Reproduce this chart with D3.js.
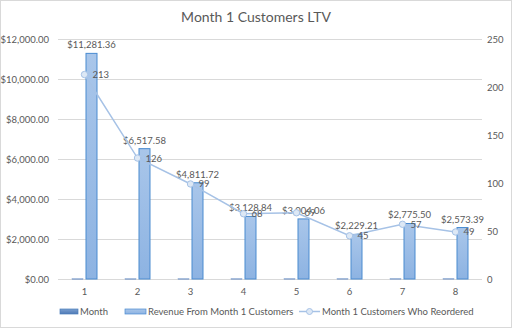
<!DOCTYPE html>
<html>
<head>
<meta charset="utf-8">
<script src="https://cdn.jsdelivr.net/npm/d3@7"></script>
<style>
  body { margin: 0; background: #fff; }
  text { font-family: Lato, "Liberation Sans", sans-serif; fill: #595959; }
</style>
</head>
<body>
<script>
const months = [1, 2, 3, 4, 5, 6, 7, 8];
const revenue = [11281.36, 6517.58, 4811.72, 3128.84, 3004.06, 2229.21, 2775.50, 2573.39];
const reorders = [213, 126, 99, 68, 69, 45, 57, 49];
const leftTicks = [0, 2000, 4000, 6000, 8000, 10000, 12000];
const rightTicks = [0, 50, 100, 150, 200, 250];

const width = 512, height = 328;
const margin = { top: 39, right: 30, bottom: 49, left: 58 };

const svg = d3.select("body").append("svg")
  .attr("width", width)
  .attr("height", height);

const defs = svg.append("defs");
const grad = defs.append("linearGradient").attr("id", "barGrad")
  .attr("x1", 0).attr("x2", 0).attr("y1", 0).attr("y2", 1);
grad.append("stop").attr("offset", "0%").attr("stop-color", "#a9c6ea");
grad.append("stop").attr("offset", "100%").attr("stop-color", "#8db3e2");
const grad2 = defs.append("linearGradient").attr("id", "monthGrad")
  .attr("x1", 0).attr("x2", 0).attr("y1", 0).attr("y2", 1);
grad2.append("stop").attr("offset", "0%").attr("stop-color", "#7a9fd0");
grad2.append("stop").attr("offset", "100%").attr("stop-color", "#4f79b5");

// chart border
svg.append("rect")
  .attr("x", 0.5).attr("y", 0.5)
  .attr("width", width - 1).attr("height", height - 1)
  .attr("fill", "#fff").attr("stroke", "#d9d9d9");

const x = d3.scaleBand()
  .domain(months)
  .range([margin.left, width - margin.right]);

const yL = d3.scaleLinear().domain([0, 12000]).range([height - margin.bottom, margin.top]);
const yR = d3.scaleLinear().domain([0, 250]).range([height - margin.bottom, margin.top]);

// gridlines
svg.append("g").selectAll("line")
  .data(leftTicks)
  .join("line")
  .attr("x1", margin.left).attr("x2", width - margin.right)
  .attr("y1", d => Math.round(yL(d)) + 0.5).attr("y2", d => Math.round(yL(d)) + 0.5)
  .attr("stroke", "#d9d9d9");

const money = d3.format("$,.2f");

// left axis
svg.append("g").selectAll("text")
  .data(leftTicks)
  .join("text")
  .attr("x", margin.left - 9)
  .attr("y", d => yL(d) + 3.5)
  .attr("text-anchor", "end")
  .attr("font-size", 9.5)
  .text(d => money(d));

// right axis
svg.append("g").selectAll("text")
  .data(rightTicks)
  .join("text")
  .attr("x", width - margin.right + 5)
  .attr("y", d => yR(d) + 3.5)
  .attr("font-size", 9.5)
  .text(d => d);

// x labels
svg.append("g").selectAll("text")
  .data(months)
  .join("text")
  .attr("x", d => x(d) + x.bandwidth() / 2)
  .attr("y", height - margin.bottom + 16)
  .attr("text-anchor", "middle")
  .attr("font-size", 9.5)
  .text(d => d);

const bw = 11;
// month bars (tiny, on left axis)
svg.append("g").selectAll("rect")
  .data(months)
  .join("rect")
  .attr("x", d => x(d) + x.bandwidth() / 2 - bw - 1.5)
  .attr("y", d => yL(d) - 0.5)
  .attr("width", bw)
  .attr("height", d => Math.max(1, yL(0) - yL(d)))
  .attr("fill", "url(#monthGrad)")
  .attr("stroke", "#9db4d6")
  .attr("stroke-width", 0.5);

// revenue bars
svg.append("g").selectAll("rect")
  .data(months)
  .join("rect")
  .attr("x", (d, i) => x(d) + x.bandwidth() / 2 + 1.5)
  .attr("y", (d, i) => yL(revenue[i]))
  .attr("width", bw)
  .attr("height", (d, i) => yL(0) - yL(revenue[i]))
  .attr("fill", "url(#barGrad)")
  .attr("stroke", "#4a8bd0")
  .attr("stroke-width", 1);

// revenue labels
svg.append("g").selectAll("text")
  .data(months)
  .join("text")
  .attr("x", d => x(d) + x.bandwidth() / 2 + 1.5 + bw / 2)
  .attr("y", (d, i) => yL(revenue[i]) - 5)
  .attr("text-anchor", "middle")
  .attr("font-size", 9.5)
  .text((d, i) => money(revenue[i]));

// reorder line
const line = d3.line()
  .x((d, i) => x(months[i]) + x.bandwidth() / 2)
  .y(d => yR(d));

svg.append("path")
  .datum(reorders)
  .attr("d", line)
  .attr("fill", "none")
  .attr("stroke", "#a6c2e6")
  .attr("stroke-width", 1.5);

svg.append("g").selectAll("circle")
  .data(reorders)
  .join("circle")
  .attr("cx", (d, i) => x(months[i]) + x.bandwidth() / 2)
  .attr("cy", d => yR(d))
  .attr("r", 3.2)
  .attr("fill", "#dde8f5")
  .attr("stroke", "#a6c2e6")
  .attr("stroke-width", 1);

svg.append("g").selectAll("text")
  .data(reorders)
  .join("text")
  .attr("x", (d, i) => x(months[i]) + x.bandwidth() / 2 + 8)
  .attr("y", d => yR(d) + 3.5)
  .attr("font-size", 9.5)
  .text(d => d);

// title
svg.append("text")
  .attr("x", width / 2)
  .attr("y", 22)
  .attr("text-anchor", "middle")
  .attr("font-size", 14)
  .text("Month 1 Customers LTV");

// legend
const lg = svg.append("g").attr("font-size", 9.5);
lg.append("rect").attr("x", 60).attr("y", 309).attr("width", 18).attr("height", 5)
  .attr("fill", "url(#monthGrad)").attr("stroke", "#4a7ebb").attr("stroke-width", 0.7);
lg.append("text").attr("x", 80).attr("y", 315).text("Month");
lg.append("rect").attr("x", 125).attr("y", 309).attr("width", 21).attr("height", 5)
  .attr("fill", "url(#barGrad)").attr("stroke", "#4a8bd0").attr("stroke-width", 0.7);
lg.append("text").attr("x", 148).attr("y", 315).text("Revenue From Month 1 Customers");
lg.append("line").attr("x1", 299).attr("x2", 320).attr("y1", 311.5).attr("y2", 311.5)
  .attr("stroke", "#a6c2e6").attr("stroke-width", 1.5);
lg.append("circle").attr("cx", 309.5).attr("cy", 311.5).attr("r", 3)
  .attr("fill", "#dde8f5").attr("stroke", "#a6c2e6");
lg.append("text").attr("x", 322).attr("y", 315).text("Month 1 Customers Who Reordered");
</script>
</body>
</html>
